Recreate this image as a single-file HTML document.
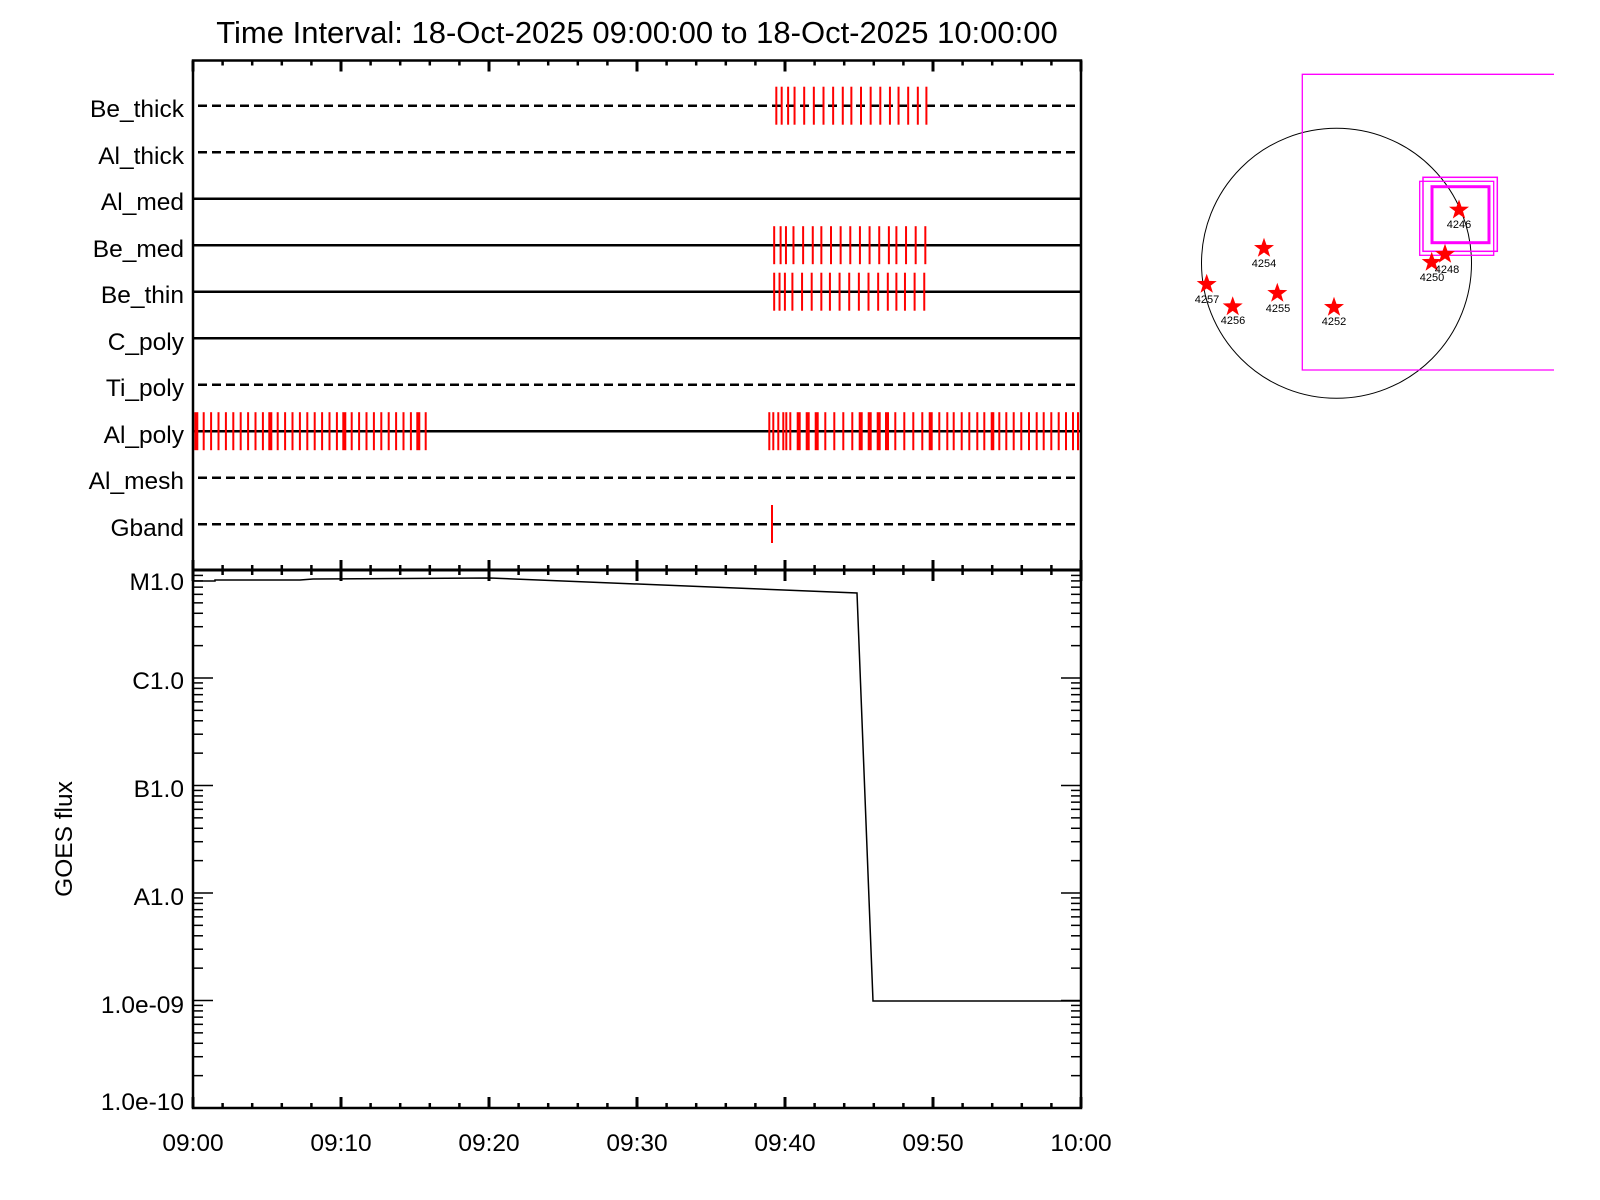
<!DOCTYPE html>
<html><head><meta charset="utf-8"><style>
html,body{margin:0;padding:0;background:#fff;}
svg{display:block;font-family:"Liberation Sans",sans-serif;}
</style></head><body>
<svg id="s" width="1600" height="1200" viewBox="0 0 1600 1200" xmlns="http://www.w3.org/2000/svg">
<rect width="1600" height="1200" fill="#fff"/>
<text x="637" y="43" font-size="31" text-anchor="middle">Time Interval: 18-Oct-2025 09:00:00 to 18-Oct-2025 10:00:00</text>
<g font-size="24.5" text-anchor="end">
<text x="184" y="117">Be_thick</text>
<text x="184" y="164">Al_thick</text>
<text x="184" y="210">Al_med</text>
<text x="184" y="257">Be_med</text>
<text x="184" y="303">Be_thin</text>
<text x="184" y="350">C_poly</text>
<text x="184" y="396">Ti_poly</text>
<text x="184" y="443">Al_poly</text>
<text x="184" y="489">Al_mesh</text>
<text x="184" y="536">Gband</text>
<text x="184" y="590">M1.0</text>
<text x="184" y="689">C1.0</text>
<text x="184" y="797">B1.0</text>
<text x="184" y="905">A1.0</text>
<text x="184" y="1013">1.0e-09</text>
<text x="184" y="1110">1.0e-10</text>
</g>
<g font-size="24.5" text-anchor="middle">
<text x="193" y="1151">09:00</text>
<text x="341" y="1151">09:10</text>
<text x="489" y="1151">09:20</text>
<text x="637" y="1151">09:30</text>
<text x="785" y="1151">09:40</text>
<text x="933" y="1151">09:50</text>
<text x="1081" y="1151">10:00</text>
</g>
<text transform="translate(72,839) rotate(-90)" font-size="24.5" text-anchor="middle">GOES flux</text>
<g id="g"></g>
<g font-size="11" text-anchor="middle">
<text x="1459" y="228">4246</text>
<text x="1447" y="273">4248</text>
<text x="1432" y="281">4250</text>
<text x="1264" y="267">4254</text>
<text x="1207" y="303">4257</text>
<text x="1233" y="324">4256</text>
<text x="1278" y="312">4255</text>
<text x="1334" y="325">4252</text>
</g>
</svg>
<script>
var g=document.getElementById('g'),h='';
function L(x1,y1,x2,y2,c,w,d){h+='<line x1="'+x1+'" y1="'+y1+'" x2="'+x2+'" y2="'+y2+'" stroke="'+(c||'#000')+'" stroke-width="'+(w||1)+'"'+(d?' stroke-dasharray="'+d+'"':'')+'/>';}
var X0=193,X1=1081,T=60.5,M=570,B=1108;
var rows=[0,0,1,1,1,1,0,1,0,0];
for(var i=0;i<10;i++){var y=105.7+46.5*i;if(rows[i])L(X0,y,X1,y,'#000',2.5);else L(198,y,1076,y,'#000',2.5,'9 5');}
function red(xs,y,thick){xs.forEach(function(x,k){L(x,y-19,x,y+19,'red',thick&&thick[k]?4:2);});}
function st(a){return a.map(function(x){return 776+(x-776)*1.072;});}
red(st([776.3,781.3,787.3,793.3,802.3,811.3,820.3,829.3,838.3,846.3,855.3,864.3,873.3,882.3,890.3,899.3,908.3,916.3]),105.7);
red(st([774.3,780.3,785.3,792.3,801.3,810.3,818.3,827.3,836.3,845.3,854.3,863.3,872.3,881.3,888.3,897.3,906.3,915.3]),245.2);
red(st([774.3,779.3,784.3,791.3,800.3,809.3,818.3,826.3,835.3,844.3,853.3,862.3,871.3,880.3,888.3,896.3,905.3,914.3]),291.7);
var a=[],t=[];for(var k=0;k<32;k++){a.push(196.3+k*7.4);t.push(k%10==0);}red(a,431.2,t);
var b=[769.3,773.3,778.3,783.3,786.3,790.3,798.7,807.7,816.7,825.3,834.3,843.3,852.3,860.7,869.7,878.7,887,895.3,904.3,913.3,922.3,930.7,939.3,947.3,953.7,961.7,969.3,977.3,984.3,991.7,993.3,999.3,1006.3,1013.7,1021.3,1029,1036.7,1043.7,1051.3,1058.7,1066,1073,1078];
var bt=b.map(function(x){return [798.7,807.7,816.7,860.7,869.7,878.7,887,930.7].indexOf(x)>=0;});
red(b,431.2,bt);
L(772,505,772,543,'red',2);
h+='<rect x="'+X0+'" y="'+T+'" width="'+(X1-X0)+'" height="'+(B-T)+'" fill="none" stroke="#000" stroke-width="2.5"/>';
L(X0,M,X1,M,'#000',3);
for(var m=0;m<=60;m+=2){var x=X0+(X1-X0)*m/60,mj=m%10==0;
 L(x,T,x,T+(mj?11:5),'#000',mj?3:2.5);
 L(x,M-(mj?10:5),x,M+(mj?11:5),'#000',mj?3:2.5);
 L(x,B,x,B-(mj?11:5),'#000',mj?3:2.5);}
for(var d=-10;d<=-5;d++){for(var j=1;j<=9;j++){var y=B-(d+10+Math.log10(j))*107.5;if(y<M-0.5)continue;var len=j==1?20:10;L(X0,y,X0+len,y,'#000',1.5);L(X1,y,X1-len,y,'#000',1.5);}}
h+='<polyline fill="none" stroke="#000" stroke-width="1.5" points="193,581 215,581 215,580 300,580 313,579 490,578 857,593 873,1001 1081,1001"/>';
h+='<circle cx="1336.5" cy="263.3" r="135" fill="none" stroke="#000" stroke-width="1"/>';
h+='<polyline fill="none" stroke="#f0f" stroke-width="1.3" points="1554,74.3 1302.3,74.3 1302.3,370 1554,370"/>';
h+='<rect x="1419.7" y="181.3" width="74" height="74" fill="none" stroke="#f0f" stroke-width="1.3"/>';
h+='<rect x="1423" y="177.3" width="74.3" height="74" fill="none" stroke="#f0f" stroke-width="1.5"/>';
h+='<rect x="1432" y="186.7" width="57" height="56" fill="none" stroke="#f0f" stroke-width="3"/>';
function star(cx,cy){var p=[];for(var i=0;i<10;i++){var r=i%2?4.2:10.5,an=-Math.PI/2+i*Math.PI/5;p.push((cx+r*Math.cos(an)).toFixed(1)+','+(cy+r*Math.sin(an)).toFixed(1));}h+='<polygon fill="red" points="'+p.join(' ')+'"/>';}
[[1459,210],[1445,254.3],[1431.7,262.3],[1264,248.3],[1206.7,284.3],[1232.7,306.7],[1277.3,293.3],[1334,307.3]].forEach(function(s){star(s[0],s[1]);});
g.innerHTML=h;
</script>
</body></html>
